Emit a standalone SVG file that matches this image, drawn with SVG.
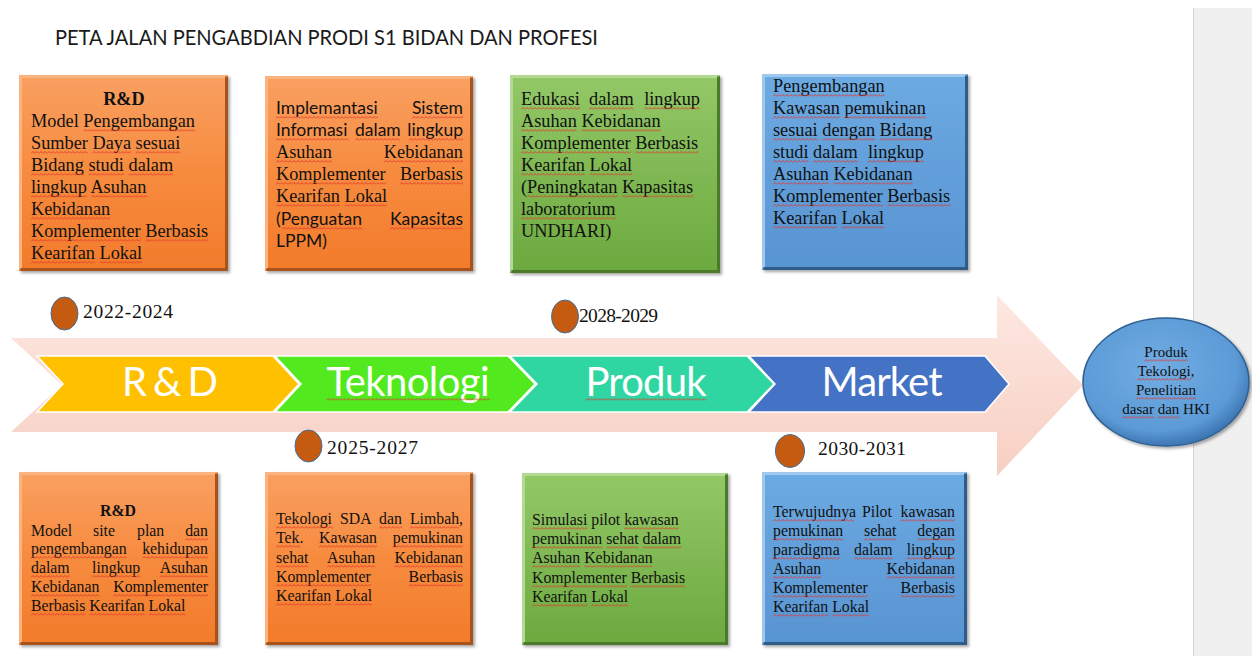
<svg xmlns="http://www.w3.org/2000/svg" width="1252" height="656" viewBox="0 0 1252 656">
<defs>
<style>
.ser{font-family:"Liberation Serif","Times New Roman",serif;fill:#111}
.t{font-size:18.3px}
.b{font-size:15.8px}
.sans{font-family:Lato,"Liberation Sans",sans-serif;font-size:17.5px;fill:#111}
.e{text-anchor:end}
.m{text-anchor:middle}
.bold{font-weight:bold}
.chev{stroke:#fff;stroke-width:1.5}
.ctext{font-family:Lato,"Liberation Sans",sans-serif;font-size:40px;fill:#fff;text-anchor:middle}
.date{font-family:"Liberation Serif","Times New Roman",serif;font-size:19.5px;fill:#111}
.dot{fill:#c55a11;stroke:#41719c;stroke-width:1}
.lo{fill:none;stroke:#fbb380;stroke-width:3}
.do{fill:none;stroke:#a8531b;stroke-width:3}
.lg{fill:none;stroke:#b4d993;stroke-width:3}
.dg{fill:none;stroke:#4b7a2b;stroke-width:3}
.lb{fill:none;stroke:#a0c8ef;stroke-width:3}
.db{fill:none;stroke:#2f5d8a;stroke-width:3}
.sq rect{fill:url(#wave);height:3px}
</style>
<pattern id="wave" patternUnits="userSpaceOnUse" width="4" height="3">
<path d="M0,2.5 L2,0.5 L4,2.5" fill="none" stroke="#e3352a" stroke-width="0.9"/>
</pattern>
<linearGradient id="pink" x1="0" y1="0" x2="0" y2="1">
<stop offset="0" stop-color="#fde8e1"/><stop offset="1" stop-color="#f7cfc3"/>
</linearGradient>
<linearGradient id="og" x1="0" y1="0" x2="0" y2="1">
<stop offset="0" stop-color="#f9a062"/><stop offset="0.5" stop-color="#f78b3e"/><stop offset="1" stop-color="#f27b2b"/>
</linearGradient>
<linearGradient id="gg" x1="0" y1="0" x2="0" y2="1">
<stop offset="0" stop-color="#93c867"/><stop offset="1" stop-color="#6ca93f"/>
</linearGradient>
<linearGradient id="bg" x1="0" y1="0" x2="0" y2="1">
<stop offset="0" stop-color="#6caae2"/><stop offset="1" stop-color="#5894d2"/>
</linearGradient>
<radialGradient id="eg" cx="0.45" cy="0.4" r="0.6">
<stop offset="0" stop-color="#72ade3"/><stop offset="0.8" stop-color="#5b9ad6"/><stop offset="1" stop-color="#3e77b3"/>
</radialGradient>
<filter id="sh" x="-10%" y="-10%" width="120%" height="120%">
<feDropShadow dx="2" dy="2" stdDeviation="1.5" flood-color="#000" flood-opacity="0.35"/>
</filter>
</defs>
<rect width="1252" height="656" fill="#fff"/>
<rect x="1193" y="8" width="59" height="648" fill="#f0f0f0"/>
<line x1="1193.5" y1="8" x2="1193.5" y2="656" stroke="#d4d4d4"/>

<text x="55" y="45" font-family="Lato,'Liberation Sans',sans-serif" font-size="20.5" fill="#1a1a1a" textLength="543" lengthAdjust="spacingAndGlyphs">PETA JALAN PENGABDIAN PRODI S1 BIDAN DAN PROFESI</text>

<g id="timeline-arrow">
<polygon points="11,338 997,338 997,295 1083,385 997,476 997,432 11,432 62,385" fill="url(#pink)"/>
</g>

<g id="connectors"></g>

<g id="stage-rnd">
<polygon class="chev" points="37,356 273,356 299,384 273,412 37,412 63,384" fill="#ffc000"/>
<text class="ctext" x="170" y="396" textLength="96">R &amp; D</text>
</g>
<g id="stage-teknologi">
<polygon class="chev" points="275,356 508,356 535,384 508,412 275,412 301,384" fill="#52e91e"/>
<text class="ctext" x="408" y="396" textLength="163">Teknologi</text>
<g class="sq"><rect transform="translate(326.5,398)" width="163"/></g>
</g>
<g id="stage-produk">
<polygon class="chev" points="510,356 747,356 774,384 747,412 510,412 537,384" fill="#30d6a2"/>
<text class="ctext" x="646" y="396" textLength="121">Produk</text>
<g class="sq"><rect transform="translate(585.5,398)" width="121"/></g>
</g>
<g id="stage-market">
<polygon class="chev" points="749,356 985,356 1009,384 985,412 749,412 775,384" fill="#4472c4"/>
<text class="ctext" x="882" y="396" textLength="121">Market</text>
</g>

<g id="date-2022">
<ellipse class="dot" cx="64.5" cy="313.5" rx="13.5" ry="16.5"/>
<text class="date" x="83" y="318" textLength="90">2022-2024</text>
</g>
<g id="date-2028">
<ellipse class="dot" cx="565" cy="316.5" rx="13.5" ry="16.5"/>
<text class="date" x="579" y="322" font-size="18" textLength="79">2028-2029</text>
</g>
<g id="date-2025">
<ellipse class="dot" cx="308.5" cy="446" rx="13.5" ry="16"/>
<text class="date" x="327" y="454" textLength="91">2025-2027</text>
</g>
<g id="date-2030">
<ellipse class="dot" cx="790" cy="451" rx="14.5" ry="16.5"/>
<text class="date" x="818" y="455" textLength="88">2030-2031</text>
</g>

<g id="box-top-1">
<rect x="19" y="75" width="209" height="196" fill="url(#og)" filter="url(#sh)"/>
<path class="lo" d="M20.5,269.5 V76.5 H226.5"/>
<path class="do" d="M226.5,76.5 V269.5 H20.5"/>
<g class="ser t">
<text class="m bold" x="124" y="105">R&amp;D</text>
<text x="31" y="127">Model Pengembangan</text>
<text x="31" y="149">Sumber Daya sesuai</text>
<text x="31" y="171">Bidang studi dalam</text>
<text x="31" y="193">lingkup Asuhan</text>
<text x="31" y="215">Kebidanan</text>
<text x="31" y="237">Komplementer Berbasis</text>
<text x="31" y="259">Kearifan Lokal</text>
</g>
<g class="sq">
<rect transform="translate(83.4,129)" width="111.8"/>
<rect transform="translate(31,151)" width="56.9"/><rect transform="translate(92.5,151)" width="38.6"/><rect transform="translate(135.7,151)" width="44.7"/>
<rect transform="translate(31,173)" width="52.9"/><rect transform="translate(88.5,173)" width="35.6"/><rect transform="translate(128.7,173)" width="44.7"/>
<rect transform="translate(31,195)" width="55.9"/><rect transform="translate(91.5,195)" width="55.9"/>
<rect transform="translate(31,217)" width="79.3"/>
<rect transform="translate(31,239)" width="109.8"/><rect transform="translate(145.4,239)" width="63"/>
<rect transform="translate(31,261)" width="64"/><rect transform="translate(99.6,261)" width="42.7"/>
</g>
</g>

<g id="box-top-2">
<rect x="265" y="76" width="208" height="195" fill="url(#og)" filter="url(#sh)"/>
<path class="lo" d="M266.5,269.5 V77.5 H471.5"/>
<path class="do" d="M471.5,77.5 V269.5 H266.5"/>
<text class="sans" x="276" y="114">Implemantasi</text>
<text class="sans e" x="463" y="114">Sistem</text>
<text class="sans" x="276" y="136">Informasi</text>
<text class="sans" x="355" y="136">dalam</text>
<text class="sans e" x="463" y="136">lingkup</text>
<g class="ser t">
<text x="276" y="158">Asuhan</text>
<text class="e" x="463" y="158">Kebidanan</text>
<text x="276" y="180">Komplementer</text>
<text class="e" x="463" y="180">Berbasis</text>
<text x="276" y="202">Kearifan Lokal</text>
</g>
<text class="sans" x="276" y="225">(Penguatan</text>
<text class="sans e" x="463" y="225">Kapasitas</text>
<text class="sans" x="276" y="247">LPPM)</text>
<g class="sq">
<rect transform="translate(276,116)" width="102"/><rect transform="translate(412,116)" width="51"/>
<rect transform="translate(276,138)" width="73"/><rect transform="translate(355,138)" width="45"/><rect transform="translate(409,138)" width="54"/>
<rect transform="translate(276,160)" width="55.9"/><rect transform="translate(383.7,160)" width="79.3"/>
<rect transform="translate(276,182)" width="109.8"/><rect transform="translate(400,182)" width="63"/>
<rect transform="translate(276,204)" width="64"/><rect transform="translate(344.6,204)" width="42.7"/>
<rect transform="translate(282,227)" width="81"/><rect transform="translate(390,227)" width="73"/>
</g>
</g>

<g id="box-top-3">
<rect x="510" y="75" width="210" height="198" fill="url(#gg)" filter="url(#sh)"/>
<path class="lg" d="M511.5,271.5 V76.5 H718.5"/>
<path class="dg" d="M718.5,76.5 V271.5 H511.5"/>
<g class="ser t">
<text x="521" y="105">Edukasi</text>
<text x="589" y="105">dalam</text>
<text class="e" x="700" y="105">lingkup</text>
<text x="521" y="127">Asuhan Kebidanan</text>
<text x="521" y="149">Komplementer Berbasis</text>
<text x="521" y="171">Kearifan Lokal</text>
<text x="521" y="193">(Peningkatan Kapasitas</text>
<text x="521" y="215">laboratorium</text>
<text x="521" y="237">UNDHARI)</text>
</g>
<g class="sq">
<rect transform="translate(521,107)" width="59"/><rect transform="translate(589,107)" width="44.7"/><rect transform="translate(644.1,107)" width="55.9"/>
<rect transform="translate(521,129)" width="55.9"/><rect transform="translate(581.5,129)" width="79.3"/>
<rect transform="translate(521,151)" width="109.8"/><rect transform="translate(635.4,151)" width="63"/>
<rect transform="translate(521,173)" width="64"/><rect transform="translate(589.6,173)" width="42.7"/>
<rect transform="translate(527.1,195)" width="90.5"/><rect transform="translate(622.2,195)" width="71.2"/>
<rect transform="translate(521,217)" width="94.5"/>
</g>
</g>

<g id="box-top-4">
<rect x="762" y="74" width="206" height="196" fill="url(#bg)" filter="url(#sh)"/>
<path class="lb" d="M763.5,268.5 V75.5 H966.5"/>
<path class="db" d="M966.5,75.5 V268.5 H763.5"/>
<g class="ser t">
<text x="773" y="92">Pengembangan</text>
<text x="773" y="114">Kawasan pemukinan</text>
<text x="773" y="136">sesuai dengan Bidang</text>
<text x="773" y="158">studi dalam</text>
<text x="868" y="158">lingkup</text>
<text x="773" y="180">Asuhan Kebidanan</text>
<text x="773" y="202">Komplementer Berbasis</text>
<text x="773" y="224">Kearifan Lokal</text>
</g>
<g class="sq">
<rect transform="translate(773,94)" width="111.8"/>
<rect transform="translate(773,116)" width="67.1"/><rect transform="translate(844.7,116)" width="81.3"/>
<rect transform="translate(773,138)" width="44.7"/><rect transform="translate(822.3,138)" width="52.9"/><rect transform="translate(879.8,138)" width="52.9"/>
<rect transform="translate(773,160)" width="35.6"/><rect transform="translate(813.2,160)" width="44.7"/><rect transform="translate(868,160)" width="55.9"/>
<rect transform="translate(773,182)" width="55.9"/><rect transform="translate(833.5,182)" width="79.3"/>
<rect transform="translate(773,204)" width="109.8"/><rect transform="translate(887.4,204)" width="63"/>
<rect transform="translate(773,226)" width="64"/><rect transform="translate(841.6,226)" width="42.7"/>
</g>
</g>

<g id="box-bottom-1">
<rect x="19" y="472" width="199" height="173" fill="url(#og)" filter="url(#sh)"/>
<path class="lo" d="M20.5,643.5 V473.5 H216.5"/>
<path class="do" d="M216.5,473.5 V643.5 H20.5"/>
<g class="ser b">
<text class="m bold" x="118" y="516">R&amp;D</text>
<text x="31" y="536">Model</text>
<text x="93" y="536">site</text>
<text x="137" y="536">plan</text>
<text class="e" x="208" y="536">dan</text>
<text x="31" y="554">pengembangan</text>
<text class="e" x="208" y="554">kehidupan</text>
<text x="31" y="573">dalam</text>
<text x="92" y="573">lingkup</text>
<text class="e" x="208" y="573">Asuhan</text>
<text x="31" y="592">Kebidanan</text>
<text class="e" x="208" y="592">Komplementer</text>
<text x="31" y="611">Berbasis Kearifan Lokal</text>
</g>
<g class="sq">
<rect transform="translate(185.2,538)" width="22.8"/>
<rect transform="translate(31,556)" width="95.7"/><rect transform="translate(142.2,556)" width="65.8"/>
<rect transform="translate(31,575)" width="38.6"/><rect transform="translate(92,575)" width="48.3"/><rect transform="translate(159.7,575)" width="48.3"/>
<rect transform="translate(31,594)" width="68.4"/><rect transform="translate(113.2,594)" width="94.8"/>
<rect transform="translate(31,613)" width="54.4"/><rect transform="translate(89.4,613)" width="55.3"/><rect transform="translate(148.6,613)" width="36.9"/>
</g>
</g>

<g id="box-bottom-2">
<rect x="265" y="472" width="208" height="173" fill="url(#og)" filter="url(#sh)"/>
<path class="lo" d="M266.5,643.5 V473.5 H471.5"/>
<path class="do" d="M471.5,473.5 V643.5 H266.5"/>
<g class="ser b">
<text x="276" y="524">Tekologi</text>
<text x="340" y="524">SDA</text>
<text x="379" y="524">dan</text>
<text class="e" x="463" y="524">Limbah,</text>
<text x="276" y="543">Tek.</text>
<text x="319" y="543">Kawasan</text>
<text class="e" x="463" y="543">pemukinan</text>
<text x="276" y="563">sehat</text>
<text x="327" y="563">Asuhan</text>
<text class="e" x="463" y="563">Kebidanan</text>
<text x="276" y="582">Komplementer</text>
<text class="e" x="463" y="582">Berbasis</text>
<text x="276" y="601">Kearifan Lokal</text>
</g>
<g class="sq">
<rect transform="translate(276,526)" width="57.1"/><rect transform="translate(379,526)" width="22.8"/><rect transform="translate(409.9,526)" width="49.2"/>
<rect transform="translate(276,545)" width="24.6"/><rect transform="translate(319,545)" width="57.9"/><rect transform="translate(392.8,545)" width="70.2"/>
<rect transform="translate(276,565)" width="32.5"/><rect transform="translate(327,565)" width="48.3"/><rect transform="translate(394.6,565)" width="68.4"/>
<rect transform="translate(276,584)" width="94.8"/><rect transform="translate(408.6,584)" width="54.4"/>
<rect transform="translate(276,603)" width="55.3"/><rect transform="translate(335.2,603)" width="36.9"/>
</g>
</g>

<g id="box-bottom-3">
<rect x="522" y="473" width="206" height="172" fill="url(#gg)" filter="url(#sh)"/>
<path class="lg" d="M523.5,643.5 V474.5 H726.5"/>
<path class="dg" d="M726.5,474.5 V643.5 H523.5"/>
<g class="ser b">
<text x="532" y="525">Simulasi pilot kawasan</text>
<text x="532" y="544">pemukinan sehat dalam</text>
<text x="532" y="563">Asuhan Kebidanan</text>
<text x="532" y="583">Komplementer Berbasis</text>
<text x="532" y="602">Kearifan Lokal</text>
</g>
<g class="sq">
<rect transform="translate(532,527)" width="55.3"/><rect transform="translate(624.2,527)" width="54.4"/>
<rect transform="translate(532,546)" width="70.2"/><rect transform="translate(606.2,546)" width="32.5"/><rect transform="translate(642.6,546)" width="38.6"/>
<rect transform="translate(532,565)" width="48.3"/><rect transform="translate(584.2,565)" width="68.4"/>
<rect transform="translate(532,585)" width="94.8"/><rect transform="translate(630.7,585)" width="54.4"/>
<rect transform="translate(532,604)" width="55.3"/><rect transform="translate(591.2,604)" width="36.9"/>
</g>
</g>

<g id="box-bottom-4">
<rect x="762" y="472" width="205" height="173" fill="url(#bg)" filter="url(#sh)"/>
<path class="lb" d="M763.5,643.5 V473.5 H965.5"/>
<path class="db" d="M965.5,473.5 V643.5 H763.5"/>
<g class="ser b">
<text x="773" y="517">Terwujudnya</text>
<text x="862" y="517">Pilot</text>
<text class="e" x="955" y="517">kawasan</text>
<text x="773" y="536">pemukinan</text>
<text x="864" y="536">sehat</text>
<text class="e" x="955" y="536">degan</text>
<text x="773" y="555">paradigma</text>
<text x="854" y="555">dalam</text>
<text class="e" x="955" y="555">lingkup</text>
<text x="773" y="574">Asuhan</text>
<text class="e" x="955" y="574">Kebidanan</text>
<text x="773" y="593">Komplementer</text>
<text class="e" x="955" y="593">Berbasis</text>
<text x="773" y="612">Kearifan Lokal</text>
</g>
<g class="sq">
<rect transform="translate(773,519)" width="81.1"/><rect transform="translate(900.6,519)" width="54.4"/>
<rect transform="translate(773,538)" width="70.2"/><rect transform="translate(864,538)" width="32.5"/><rect transform="translate(917.3,538)" width="37.7"/>
<rect transform="translate(773,557)" width="66.7"/><rect transform="translate(854,557)" width="38.6"/><rect transform="translate(906.7,557)" width="48.3"/>
<rect transform="translate(773,576)" width="48.3"/><rect transform="translate(886.6,576)" width="68.4"/>
<rect transform="translate(773,595)" width="94.8"/><rect transform="translate(900.6,595)" width="54.4"/>
<rect transform="translate(773,614)" width="55.3"/><rect transform="translate(832.2,614)" width="36.9"/>
</g>
</g>

<g id="outcome">
<ellipse cx="1166" cy="382" rx="83" ry="64" fill="url(#eg)" stroke="#2f5f90" stroke-width="1.5" filter="url(#sh)"/>
<g class="ser" font-size="15">
<text class="m" x="1166" y="357">Produk</text>
<text class="m" x="1166" y="376">Tekologi,</text>
<text class="m" x="1166" y="395">Penelitian</text>
<text class="m" x="1166" y="414">dasar dan HKI</text>
</g>
<g class="sq">
<rect transform="translate(1144.3,359)" width="43.3"/>
<rect transform="translate(1137,378)" width="54.2"/>
<rect transform="translate(1136,397)" width="60"/>
<rect transform="translate(1122.3,416)" width="31.7"/><rect transform="translate(1157.7,416)" width="21.7"/>
</g>
</g>
</svg>
